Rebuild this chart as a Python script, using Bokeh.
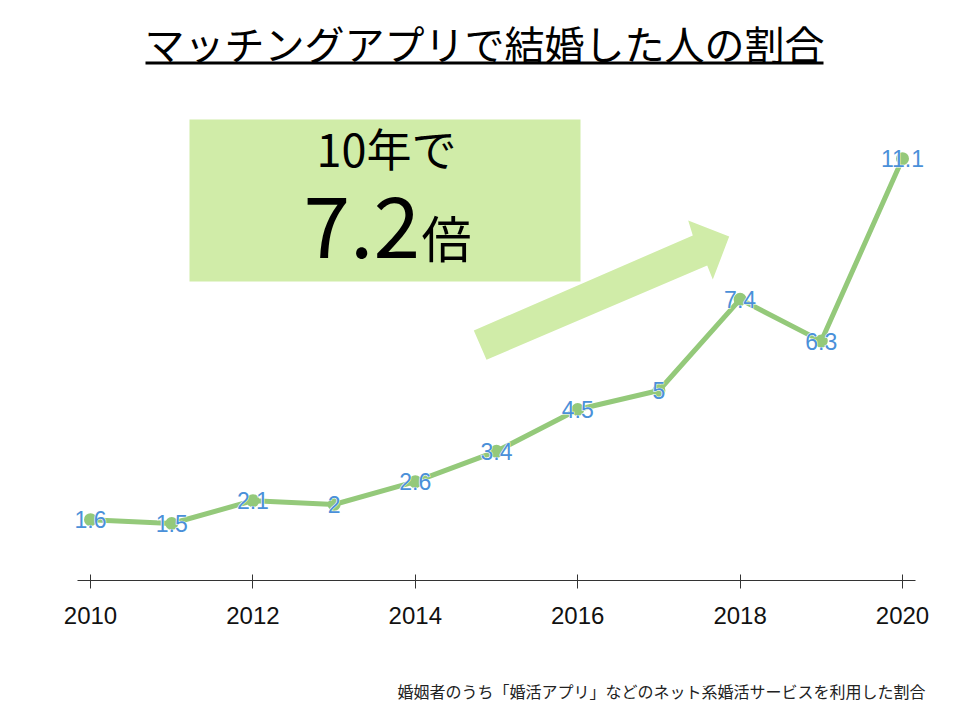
from bokeh.plotting import figure
from bokeh.models import Range1d, FixedTicker, Label, ColumnDataSource, LinearAxis
from bokeh.core.properties import value
from bokeh.embed import file_html
from bokeh.resources import INLINE

# ---- data ----
years = [2010, 2011, 2012, 2013, 2014, 2015, 2016, 2017, 2018, 2019, 2020]
shares = [1.6, 1.5, 2.1, 2.0, 2.6, 3.4, 4.5, 5.0, 7.4, 6.3, 11.1]
tick_years = [2010, 2012, 2014, 2016, 2018, 2020]
title_text = "マッチングアプリで結婚した人の割合"
box_line1 = "10年で"
box_big = "7.2"
box_unit = "倍"
note_text = "婚姻者のうち「婚活アプリ」などのネット系婚活サービスを利用した割合"

# ---- styles ----
LINE_C = "#94c97a"
LABEL_C = "#4a90d9"
BOX_C = "#d0eca8"
JP = "Noto Sans CJK JP"

# page-pixel -> data helpers (for decorations only)
def dx(sx):
    return 2010 + (sx - 90) / 81.2

def dy(sy):
    return (580 - sy) / 38.0

W, H = 952, 712
p = figure(width=W, height=H, output_backend="svg", toolbar_location=None,
           x_range=Range1d(dx(0), dx(W)), y_range=Range1d(dy(H), dy(0)),
           min_border=0, x_axis_location=None, y_axis_location=None)
p.outline_line_color = None
p.xgrid.visible = False
p.ygrid.visible = False
p.background_fill_color = "white"
p.border_fill_color = "white"

ax = LinearAxis(fixed_location=0)
ax.ticker = FixedTicker(ticks=tick_years)
ax.axis_line_color = None
ax.major_tick_line_color = "#333333"
ax.major_tick_in = 6
ax.major_tick_out = 8
ax.minor_tick_line_color = None
ax.major_label_text_font = "Liberation Sans"
ax.major_label_text_font_size = "24px"
ax.major_label_text_color = "#111111"
ax.major_label_standoff = 18
p.add_layout(ax, "below")

# axis baseline
p.segment(x0=[dx(77)], y0=[0], x1=[dx(915)], y1=[0], line_color="#333333", line_width=1.2)

# green box
p.quad(left=dx(189), right=dx(580), top=dy(119), bottom=dy(281),
       fill_color=BOX_C, line_color=None)

# arrow
arrow_pts = [(473.3, 330), (692.3, 235), (687.7, 220), (728.7, 236),
             (712.3, 279), (706.7, 265), (486, 359.3)]
p.patch([dx(a) for a, b in arrow_pts], [dy(b) for a, b in arrow_pts],
        fill_color=BOX_C, line_color=None)

# title underline
p.segment(x0=[dx(145)], y0=[dy(62.5)], x1=[dx(823)], y1=[dy(62.5)],
          line_color="black", line_width=3)

# data
labels = [f"{v:g}" for v in shares]
src = ColumnDataSource(dict(x=years, y=shares, lab=labels))
p.line("x", "y", source=src, line_color=LINE_C, line_width=5, line_join="round")
p.scatter("x", "y", source=src, size=13, fill_color=LINE_C, line_color=None)
p.text("x", "y", text="lab", source=src, text_align="center",
       text_baseline="middle", text_color="white", text_font_size="23px",
       text_font=value("Liberation Sans"), text_outline_color="white")
p.text("x", "y", text="lab", source=src, text_align="center",
       text_baseline="middle", text_color=LABEL_C, text_font_size="23px",
       text_font=value("Liberation Sans"))

# texts
p.add_layout(Label(x=dx(484), y=dy(42), text=title_text, text_align="center",
                   text_baseline="middle", text_font=JP, text_font_size="40px",
                   text_color="black"))
p.add_layout(Label(x=dx(386), y=dy(147), text=box_line1, text_align="center",
                   text_baseline="middle", text_font=JP, text_font_size="45px",
                   text_color="black"))
p.add_layout(Label(x=dx(303), y=dy(226), text=box_big, text_align="left",
                   text_baseline="alphabetic", text_font=JP, text_font_size="84px",
                   text_color="black"))
p.add_layout(Label(x=dx(421), y=dy(235), text=box_unit, text_align="left",
                   text_baseline="alphabetic", text_font=JP, text_font_size="50px",
                   text_color="black"))
p.add_layout(Label(x=dx(925), y=dy(690), text=note_text, text_align="right",
                   text_baseline="middle", text_font=JP, text_font_size="16px",
                   text_color="#222222"))

open("out.html", "w").write(file_html(p, INLINE))
